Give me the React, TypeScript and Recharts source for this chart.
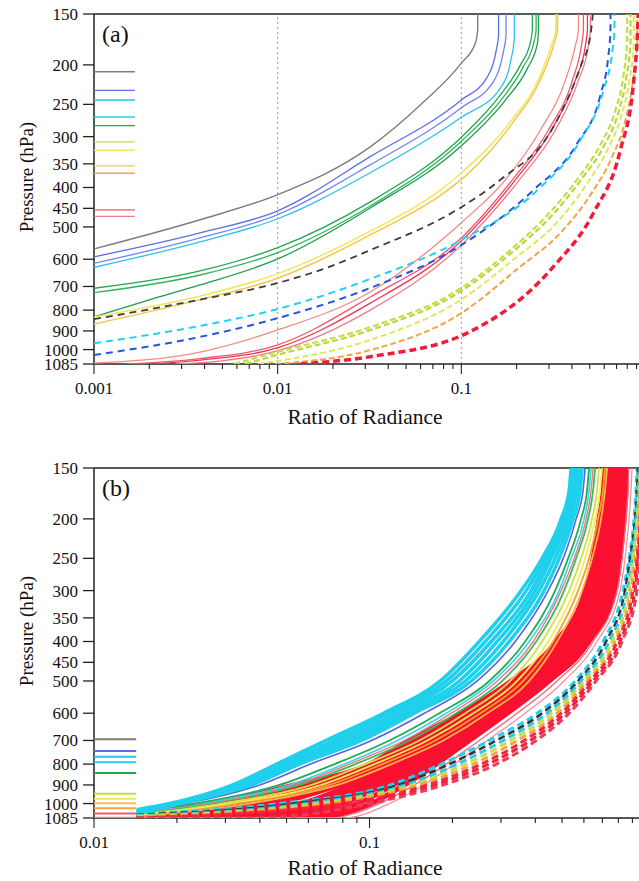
import React from 'react';
import { ScatterChart, Scatter, XAxis, YAxis, ReferenceLine } from 'recharts';

type Pt = [number, number];
interface Curve { data: Pt[]; color: string; w: number; dash?: string }

const FONT = "'Liberation Serif', 'Times New Roman', Times, serif";

// pressure axis (hPa), same for both panels
const pressureTicks = [150, 200, 250, 300, 350, 400, 450, 500, 600, 700, 800, 900, 1000, 1085];
const pressureDomain: [number, number] = [150, 1085];

// ratio axis
const ratioTicksA = [0.001, 0.002, 0.003, 0.004, 0.005, 0.006, 0.007, 0.008, 0.009,
  0.01, 0.02, 0.03, 0.04, 0.05, 0.06, 0.07, 0.08, 0.09,
  0.1, 0.2, 0.3, 0.4, 0.5, 0.6, 0.7, 0.8, 0.9];
const ratioLabelsA = [0.001, 0.01, 0.1];
const ratioTicksB = [0.01, 0.02, 0.03, 0.04, 0.05, 0.06, 0.07, 0.08, 0.09,
  0.1, 0.2, 0.3, 0.4, 0.5, 0.6, 0.7, 0.8, 0.9];
const ratioLabelsB = [0.01, 0.1];
const dottedA = [0.01, 0.1];

// short legend stubs at the left edge
const legendColors = ['#7d7d7d', '#5b6fe6', '#2bc3ec', '#1fd2f2', '#22a650', '#c3dd44',
  '#efe75e', '#f3c64e', '#f5a343', '#f0566c', '#f27b8c'];
const legendPressA = [208, 231, 244, 268.5, 282, 309, 324, 354, 369, 454, 471];
const legendPressB = [695, 743, 767, 792, 841, 946, 973, 998, 1027, 1057, 1083];
const legendSpanA = [0.001, 0.00167];
const legendSpanB = [0.01, 0.01423];

// ---- panel (a): [ratio, pressure] ----
const grayA: Pt[] = [[0.001, 566], [0.00378, 480], [0.00993, 417], [0.0319, 318], [0.0598, 251], [0.1, 198], [0.1192, 177], [0.1228, 164], [0.1228, 150]];
const blue1A: Pt[] = [[0.001, 592], [0.00378, 517], [0.00993, 457], [0.0319, 336], [0.1, 244], [0.1386, 214], [0.155, 184], [0.1595, 169], [0.1595, 150]];
const blue2A: Pt[] = [[0.001, 614], [0.00378, 532], [0.00993, 467], [0.0319, 352], [0.1, 255], [0.1513, 218], [0.1693, 186], [0.1752, 169], [0.1752, 150]];
const cyanA: Pt[] = [[0.001, 628], [0.00378, 544], [0.00993, 478], [0.0319, 368], [0.1, 269], [0.1632, 228], [0.1873, 192], [0.1944, 172], [0.1944, 150]];
const green1A: Pt[] = [[0.001, 707], [0.00378, 641], [0.00993, 563], [0.0319, 434], [0.1, 301], [0.1632, 237], [0.2098, 200], [0.2377, 176], [0.2437, 164], [0.2437, 150]];
const green2A: Pt[] = [[0.001, 725], [0.00378, 656], [0.00993, 579], [0.0319, 444], [0.1, 308], [0.1693, 240], [0.2177, 202], [0.2483, 176], [0.2554, 164], [0.2554, 150]];
const green3A: Pt[] = [[0.001, 831], [0.00202, 754], [0.00378, 694], [0.00993, 600], [0.0319, 449], [0.1, 316], [0.1737, 244], [0.2289, 204], [0.2596, 177], [0.2629, 164], [0.2629, 150]];
const yellowA: Pt[] = [[0.001, 832], [0.00378, 739], [0.00993, 652], [0.0319, 512], [0.0768, 406], [0.1, 368], [0.1849, 276], [0.2695, 212], [0.3132, 176], [0.328, 164], [0.328, 150]];
const goldA: Pt[] = [[0.001, 865], [0.00378, 754], [0.00993, 669], [0.0319, 523], [0.0818, 410], [0.1065, 373], [0.192, 276], [0.2763, 212], [0.3212, 176], [0.3337, 164], [0.3337, 150]];
const red1A: Pt[] = [[0.001, 1080], [0.00378, 1014], [0.00993, 896], [0.0319, 722], [0.1, 488], [0.1737, 383], [0.2695, 289], [0.3688, 218], [0.4181, 179], [0.4342, 164], [0.4342, 150]];
const red2A: Pt[] = [[0.00151, 1085], [0.00378, 1052], [0.00993, 975], [0.0319, 743], [0.1, 532], [0.1897, 383], [0.298, 289], [0.4027, 218], [0.4508, 179], [0.4622, 164], [0.4622, 150]];
const red3A: Pt[] = [[0.00202, 1085], [0.00378, 1061], [0.00993, 991], [0.0319, 769], [0.1, 541], [0.197, 383], [0.3093, 289], [0.4181, 218], [0.474, 179], [0.486, 164], [0.486, 150]];
const red4A: Pt[] = [[0.00276, 1085], [0.00486, 1067], [0.00993, 1008], [0.0319, 800], [0.1, 554], [0.2071, 383], [0.3252, 289], [0.4342, 218], [0.4921, 179], [0.5047, 164], [0.5047, 150]];
const blackDashA: Pt[] = [[0.001, 842], [0.00378, 754], [0.00993, 687], [0.01706, 638], [0.0319, 570], [0.1, 447], [0.1632, 383], [0.3172, 284], [0.4452, 202], [0.5047, 169], [0.52, 150]];
const blueDashA: Pt[] = [[0.001, 1031], [0.00378, 931], [0.00993, 838], [0.0319, 706], [0.1, 554], [0.2468, 406], [0.4288, 311], [0.572, 237], [0.6325, 189], [0.6486, 164], [0.6486, 150]];
const cyanDashA: Pt[] = [[0.001, 965], [0.00378, 875], [0.00993, 796], [0.0319, 671], [0.1, 538], [0.2596, 406], [0.4452, 306], [0.594, 231], [0.665, 184], [0.682, 164], [0.682, 150]];
const ygDash1A: Pt[] = [[0.00579, 1085], [0.00993, 1014], [0.0319, 881], [0.1, 706], [0.1849, 570], [0.3055, 459], [0.4452, 373], [0.572, 314], [0.6906, 258], [0.7635, 212], [0.7998, 174], [0.7998, 150]];
const ygDash2A: Pt[] = [[0.00665, 1085], [0.00993, 1031], [0.0319, 896], [0.1, 718], [0.1897, 576], [0.3132, 467], [0.4564, 379], [0.594, 318], [0.7172, 261], [0.7928, 214], [0.8337, 176], [0.8337, 150]];
const ygDash3A: Pt[] = [[0.00783, 1085], [0.0319, 947], [0.1, 754], [0.197, 596], [0.3294, 489], [0.486, 390], [0.6246, 323], [0.7447, 266], [0.8232, 218], [0.869, 179], [0.869, 150]];
const orangeDashA: Pt[] = [[0.00969, 1085], [0.0319, 1003], [0.1, 814], [0.2045, 631], [0.3464, 517], [0.5175, 410], [0.6569, 339], [0.7831, 273], [0.8548, 224], [0.9069, 179], [0.9069, 150]];
const redDashA: Pt[] = [[0.01327, 1085], [0.0319, 1041], [0.1074, 911], [0.3172, 626], [0.524, 462], [0.735, 323], [0.8657, 222], [0.9103, 167], [0.92, 150]];

// ---- panel (b): [ratio, pressure] ----
const cyanB1: Pt[] = [[0.0143, 1035], [0.01886, 1000], [0.03189, 900], [0.04603, 800], [0.06929, 700], [0.1124, 600], [0.1808, 500], [0.2503, 400], [0.3554, 300], [0.4233, 250], [0.4963, 200], [0.5305, 170], [0.5394, 150]];
const cyanB2: Pt[] = [[0.0143, 1040], [0.01917, 1000], [0.03297, 900], [0.04799, 800], [0.07406, 700], [0.1181, 600], [0.1901, 500], [0.2632, 400], [0.3706, 300], [0.4342, 250], [0.5046, 200], [0.5394, 170], [0.5485, 150]];
const cyanB3: Pt[] = [[0.0143, 1045], [0.0195, 1000], [0.03408, 900], [0.04961, 800], [0.07851, 700], [0.1253, 600], [0.1999, 500], [0.2767, 400], [0.3863, 300], [0.4452, 250], [0.5131, 200], [0.5485, 170], [0.5577, 150]];
const cyanB4: Pt[] = [[0.0143, 1050], [0.01982, 1000], [0.03495, 900], [0.05172, 800], [0.08324, 700], [0.1317, 600], [0.2119, 500], [0.2909, 400], [0.3993, 300], [0.4565, 250], [0.5218, 200], [0.5577, 170], [0.5671, 150]];
const cyanB5: Pt[] = [[0.0143, 1055], [0.02015, 1000], [0.03614, 900], [0.05348, 800], [0.08825, 700], [0.1384, 600], [0.2228, 500], [0.3058, 400], [0.4129, 300], [0.472, 250], [0.535, 200], [0.5671, 170], [0.5815, 150]];
const cyanB6: Pt[] = [[0.0143, 1060], [0.02049, 1000], [0.03736, 900], [0.05577, 800], [0.09356, 700], [0.1455, 600], [0.2342, 500], [0.3215, 400], [0.4305, 300], [0.488, 250], [0.5485, 200], [0.5815, 170], [0.5911, 150]];
const blueB: Pt[] = [[0.0143, 1040], [0.02136, 1000], [0.03994, 900], [0.0611, 800], [0.1017, 700], [0.1582, 600], [0.2462, 500], [0.3381, 400], [0.4452, 300], [0.505, 250], [0.5624, 200], [0.596, 170], [0.6062, 150]];
const green1B: Pt[] = [[0.0143, 1045], [0.02322, 1000], [0.0472, 900], [0.07468, 800], [0.1181, 700], [0.1793, 600], [0.2722, 500], [0.3674, 400], [0.472, 300], [0.526, 250], [0.586, 200], [0.6163, 170], [0.6268, 150]];
const cyanMixB: Pt[] = [[0.0143, 1050], [0.02422, 1000], [0.05131, 900], [0.08117, 800], [0.1263, 700], [0.19, 600], [0.2815, 500], [0.3799, 400], [0.488, 300], [0.5395, 250], [0.6012, 200], [0.6268, 170], [0.6373, 150]];
const pinkMixB: Pt[] = [[0.0143, 1055], [0.02525, 1000], [0.05348, 900], [0.08464, 800], [0.1339, 700], [0.1981, 600], [0.2909, 500], [0.3928, 400], [0.4963, 300], [0.5531, 250], [0.6113, 200], [0.6373, 170], [0.6481, 150]];
const green2B: Pt[] = [[0.0143, 1055], [0.02633, 1000], [0.05577, 900], [0.089, 800], [0.1396, 700], [0.2066, 600], [0.3033, 500], [0.4028, 400], [0.5088, 300], [0.5624, 250], [0.6216, 200], [0.6481, 170], [0.659, 150]];
const ygB: Pt[] = [[0.0143, 1060], [0.02861, 1000], [0.06164, 900], [0.09672, 800], [0.1517, 700], [0.2228, 600], [0.3242, 500], [0.4233, 400], [0.5305, 300], [0.586, 250], [0.6427, 200], [0.6699, 170], [0.6813, 150]];
const yellowB: Pt[] = [[0.0143, 1065], [0.03058, 1000], [0.067, 900], [0.1043, 800], [0.1622, 700], [0.2381, 600], [0.3438, 500], [0.4452, 400], [0.5531, 300], [0.6062, 250], [0.659, 200], [0.687, 170], [0.6986, 150]];
const orange1B: Pt[] = [[0.0143, 1070], [0.03325, 1000], [0.07163, 900], [0.1115, 800], [0.1733, 700], [0.2524, 600], [0.3613, 500], [0.4641, 400], [0.5719, 300], [0.6268, 250], [0.6756, 200], [0.7044, 170], [0.7163, 150]];
const orange2B: Pt[] = [[0.0143, 1075], [0.03675, 1000], [0.07657, 900], [0.1201, 800], [0.1853, 700], [0.2677, 600], [0.3799, 500], [0.4799, 400], [0.5912, 300], [0.6427, 250], [0.6928, 200], [0.7163, 170], [0.7283, 150]];
const redB1: Pt[] = [[0.0143, 1060], [0.02745, 1000], [0.05348, 900], [0.1, 800], [0.1396, 700], [0.2155, 600], [0.3269, 500], [0.4759, 400], [0.6062, 300], [0.6481, 250], [0.6813, 200], [0.7044, 170], [0.7103, 150]];
const redB2: Pt[] = [[0.0143, 1070], [0.03243, 1000], [0.06062, 900], [0.1069, 800], [0.1491, 700], [0.2303, 600], [0.3438, 500], [0.4921, 400], [0.6216, 300], [0.6645, 250], [0.6986, 200], [0.7163, 170], [0.7283, 150]];
const redB3: Pt[] = [[0.0143, 1075], [0.03831, 1000], [0.06871, 900], [0.1143, 800], [0.1595, 700], [0.2441, 600], [0.3613, 500], [0.5088, 400], [0.6373, 300], [0.6813, 250], [0.7103, 200], [0.7283, 170], [0.7406, 150]];
const redB4: Pt[] = [[0.0143, 1080], [0.04527, 1000], [0.07786, 900], [0.1222, 800], [0.1705, 700], [0.2611, 600], [0.3799, 500], [0.5261, 400], [0.6535, 300], [0.6986, 250], [0.7283, 200], [0.7468, 170], [0.7593, 150]];
const redB5: Pt[] = [[0.0143, 1085], [0.05577, 1000], [0.08606, 900], [0.1306, 800], [0.1822, 700], [0.2677, 600], [0.3961, 500], [0.5395, 400], [0.6699, 300], [0.7163, 250], [0.7468, 200], [0.7657, 170], [0.7721, 150]];
const redB6: Pt[] = [[0.0143, 1085], [0.02422, 1085], [0.06267, 1000], [0.09434, 900], [0.1384, 800], [0.1917, 700], [0.2768, 600], [0.4061, 500], [0.5577, 400], [0.687, 300], [0.7345, 250], [0.7593, 200], [0.7786, 170], [0.7851, 150]];
const redB7: Pt[] = [[0.0143, 1085], [0.0311, 1085], [0.07103, 1000], [0.1026, 900], [0.1467, 800], [0.1998, 700], [0.2862, 600], [0.4164, 500], [0.5719, 400], [0.7103, 300], [0.7531, 250], [0.7786, 200], [0.7983, 170], [0.805, 150]];
const redB8: Pt[] = [[0.0143, 1085], [0.03994, 1085], [0.07983, 1000], [0.1124, 900], [0.1556, 800], [0.2101, 700], [0.2958, 600], [0.4269, 500], [0.5912, 400], [0.7283, 300], [0.7721, 250], [0.7983, 200], [0.8184, 170], [0.8253, 150]];
const redB9: Pt[] = [[0.0143, 1085], [0.0492, 1085], [0.09049, 1000], [0.1222, 900], [0.1649, 800], [0.2191, 700], [0.3058, 600], [0.4377, 500], [0.6062, 400], [0.7531, 300], [0.7983, 250], [0.8184, 200], [0.8323, 170], [0.8393, 150]];
const redB10: Pt[] = [[0.0143, 1085], [0.06062, 1085], [0.1017, 1000], [0.1339, 900], [0.1748, 800], [0.2303, 700], [0.3162, 600], [0.4489, 500], [0.6268, 400], [0.7786, 300], [0.8117, 250], [0.8393, 200], [0.8535, 170], [0.8535, 150]];
const pinkB1: Pt[] = [[0.0143, 1085], [0.07163, 1085], [0.1087, 1000], [0.1455, 900], [0.19, 800], [0.2503, 700], [0.3437, 600], [0.48, 500], [0.6481, 400], [0.7917, 300], [0.8253, 250], [0.8535, 200], [0.8678, 170], [0.875, 150]];
const pinkB2: Pt[] = [[0.0143, 1085], [0.08117, 1085], [0.1181, 1000], [0.1569, 900], [0.2032, 800], [0.2677, 700], [0.3675, 600], [0.5088, 500], [0.6699, 400], [0.8117, 300], [0.8464, 250], [0.875, 200], [0.8898, 170], [0.8973, 150]];
const dashB1: Pt[] = [[0.0143, 1060], [0.0472, 1000], [0.1191, 900], [0.1823, 800], [0.2722, 700], [0.4061, 600], [0.5577, 500], [0.7044, 400], [0.8323, 300], [0.875, 250], [0.9123, 200], [0.9277, 170], [0.9355, 150]];
const dashB2: Pt[] = [[0.0143, 1065], [0.0526, 1000], [0.1273, 900], [0.1949, 800], [0.2886, 700], [0.4234, 600], [0.5719, 500], [0.7223, 400], [0.8464, 300], [0.8824, 250], [0.92, 200], [0.9355, 170], [0.9433, 150]];
const dashB3: Pt[] = [[0.0143, 1070], [0.05863, 1000], [0.135, 900], [0.2084, 800], [0.3058, 700], [0.4415, 600], [0.586, 500], [0.7406, 400], [0.8607, 300], [0.8973, 250], [0.9277, 200], [0.9433, 170], [0.9512, 150]];
const dashB4: Pt[] = [[0.0143, 1075], [0.06535, 1000], [0.1431, 900], [0.2228, 800], [0.3242, 700], [0.4603, 600], [0.6012, 500], [0.7593, 400], [0.875, 300], [0.9048, 250], [0.9355, 200], [0.9512, 170], [0.9592, 150]];
const dashB5: Pt[] = [[0.0143, 1080], [0.07223, 1000], [0.1517, 900], [0.2381, 800], [0.3437, 700], [0.48, 600], [0.6163, 500], [0.7786, 400], [0.8898, 300], [0.9199, 250], [0.9512, 200], [0.9592, 170], [0.9672, 150]];
const dashB6: Pt[] = [[0.0143, 1085], [0.0805, 1000], [0.1622, 900], [0.2545, 800], [0.3644, 700], [0.4962, 600], [0.632, 500], [0.7917, 400], [0.9048, 300], [0.9355, 250], [0.9592, 200], [0.9672, 170], [0.9753, 150]];
const dashB7: Pt[] = [[0.0143, 1085], [0.0311, 1085], [0.0897, 1000], [0.1733, 900], [0.2699, 800], [0.3831, 700], [0.5131, 600], [0.6481, 500], [0.8117, 400], [0.9199, 300], [0.9433, 250], [0.9672, 200], [0.9753, 170], [0.9835, 150]];
const dashB8: Pt[] = [[0.0143, 1085], [0.0399, 1085], [0.1, 1000], [0.1853, 900], [0.2886, 800], [0.4028, 700], [0.5305, 600], [0.6645, 500], [0.8253, 400], [0.9355, 300], [0.9592, 250], [0.9835, 200], [0.9917, 170], [0.9917, 150]];

const curvesA: Curve[] = [
  { data: grayA, color: '#7d7d7d', w: 1.4 },
  { data: blue1A, color: '#5b6fe6', w: 1.3 },
  { data: blue2A, color: '#7484ee', w: 1.3 },
  { data: cyanA, color: '#2bc3ec', w: 1.3 },
  { data: green1A, color: '#22a650', w: 1.3 },
  { data: green2A, color: '#2fb35c', w: 1.3 },
  { data: green3A, color: '#1f9c4a', w: 1.3 },
  { data: yellowA, color: '#efe75e', w: 1.5 },
  { data: goldA, color: '#f3c64e', w: 1.5 },
  { data: red1A, color: '#f48a80', w: 1.3 },
  { data: red2A, color: '#f0566c', w: 1.3 },
  { data: red3A, color: '#ea3550', w: 1.3 },
  { data: red4A, color: '#f27b8c', w: 1.3 },
  { data: blackDashA, color: '#3d3d3d', w: 1.8, dash: '7 5' },
  { data: blueDashA, color: '#2456e0', w: 2, dash: '7 5' },
  { data: cyanDashA, color: '#1fd2f2', w: 2, dash: '7 5' },
  { data: ygDash1A, color: '#c3dd44', w: 2.2, dash: '6 3' },
  { data: ygDash2A, color: '#b6d83c', w: 2.2, dash: '6 3' },
  { data: ygDash3A, color: '#e3e65a', w: 2, dash: '6 3' },
  { data: orangeDashA, color: '#f5a343', w: 2, dash: '6 3' },
  { data: redDashA, color: '#f01c3c', w: 3.5, dash: '7 4' },
];

const RED = '#fa1030';
const curvesB: Curve[] = [
  ...[redB1, redB2, redB3, redB4, redB5, redB6, redB7, redB8, redB9, redB10].map((d) => ({ data: d, color: RED, w: 5 })),
  { data: pinkB1, color: '#f26a7e', w: 1.3 },
  { data: pinkB2, color: '#f590a0', w: 1.3 },
  { data: orange2B, color: '#f7b646', w: 1.8 },
  { data: orange1B, color: '#f6a030', w: 1.8 },
  { data: yellowB, color: '#f2ee5a', w: 1.8 },
  { data: ygB, color: '#cde24a', w: 1.8 },
  { data: green2B, color: '#3dbb55', w: 1.8 },
  { data: pinkMixB, color: '#f07888', w: 1.4 },
  { data: cyanMixB, color: '#35d6ec', w: 1.6 },
  { data: green1B, color: '#22aa50', w: 1.8 },
  { data: blueB, color: '#5566dd', w: 1.6 },
  ...[cyanB6, cyanB5, cyanB4, cyanB3, cyanB2, cyanB1].map((d) => ({ data: d, color: '#1fd0ec', w: 3.5 })),
  { data: dashB1, color: '#22cfee', w: 3, dash: '7 4' },
  { data: dashB2, color: '#333333', w: 2.5, dash: '7 4' },
  { data: dashB3, color: '#2ec4ee', w: 3, dash: '7 4' },
  { data: dashB4, color: '#c6df45', w: 3, dash: '7 4' },
  { data: dashB5, color: '#f5a442', w: 3, dash: '7 4' },
  { data: dashB6, color: '#f5273f', w: 3, dash: '7 4' },
  { data: dashB7, color: '#f0203c', w: 3, dash: '7 4' },
  { data: dashB8, color: '#f23a55', w: 3, dash: '7 4' },
];

// label content; prop names chosen so Recharts' Label props do not override them
function Title({ tx, ty, text, size, rot = 0, anchor = 'middle' }: any) {
  return (
    <text x={tx} y={ty} dy="0.35em" textAnchor={anchor} fontSize={size} fontFamily={FONT} fill="#111"
      transform={rot ? `rotate(${rot} ${tx} ${ty})` : undefined}>
      {text}
    </text>
  );
}

function PressureTick({ x, y, payload }: any) {
  return (
    <g>
      <line x1={x - 11} x2={x} y1={y} y2={y} stroke="#222" strokeWidth={1.3} />
      <text x={x - 16} y={y} dy="0.35em" textAnchor="end" fontSize={17} fontFamily={FONT} fill="#111">
        {payload.value}
      </text>
    </g>
  );
}

function RatioTick({ x, y, payload, labels }: any) {
  const major = labels.includes(payload.value);
  return (
    <g>
      <line x1={x} x2={x} y1={y} y2={y + (major ? 10 : 5)} stroke="#222" strokeWidth={1.1} />
      {major && (
        <text x={x} y={y + 24} dy="0.35em" textAnchor="middle" fontSize={17} fontFamily={FONT} fill="#111">
          {String(payload.value)}
        </text>
      )}
    </g>
  );
}

function Panel({ tag, domain, ticks, labels, curves, legendPress, legendSpan, legendW, dotted, titleY }: any) {
  return (
    <ScatterChart width={660} height={440} margin={{ top: 14, right: 15, bottom: 0, left: 0 }}>
      <XAxis dataKey="x" type="number" scale="log" domain={domain} allowDataOverflow ticks={ticks} interval={0}
        tickSize={0} tickMargin={0} height={76} axisLine={{ stroke: '#222', strokeWidth: 1.5 }}
        tick={(p: any) => <RatioTick {...p} labels={labels} />}
        label={<Title tx={365} ty={titleY} size={21.5} text="Ratio of Radiance" />} />
      <YAxis dataKey="p" type="number" scale="log" domain={pressureDomain} reversed allowDataOverflow
        ticks={pressureTicks} interval={0} width={94} tickSize={0} tickMargin={0}
        axisLine={{ stroke: '#222', strokeWidth: 1.5 }} tick={PressureTick}
        label={<Title tx={26.5} ty={177} rot={-90} size={19} text="Pressure (hPa)" />} />
      {dotted.map((v: number) => (
        <ReferenceLine key={`d${v}`} x={v} stroke="#9a9a9a" strokeDasharray="2 3" strokeWidth={1} />
      ))}
      <ReferenceLine y={150} stroke="#222" strokeWidth={1.5}
        label={<Title tx={102} ty={34} size={24} anchor="start" text={tag} />} />
      {legendPress.map((p: number, i: number) => (
        <Scatter key={`l${i}`} data={legendSpan.map((x: number) => ({ x, p }))} fill="none"
          line={{ stroke: legendColors[i], strokeWidth: legendW }} shape={() => <g />} isAnimationActive={false} />
      ))}
      {curves.map((c: Curve, i: number) => (
        <Scatter key={`c${i}`} data={c.data.map(([x, p]) => ({ x, p }))} fill="none"
          line={{ stroke: c.color, strokeWidth: c.w, strokeDasharray: c.dash }}
          lineJointType="monotoneX" shape={() => <g />} isAnimationActive={false} />
      ))}
    </ScatterChart>
  );
}

export default function App() {
  return (
    <div style={{ position: 'absolute', left: 0, top: 0, width: 639, height: 881, overflow: 'hidden', background: '#fff' }}>
      <div style={{ position: 'absolute', left: 0, top: 0 }}>
        <Panel tag="(a)" domain={[0.001, 1]} ticks={ratioTicksA} labels={ratioLabelsA} curves={curvesA}
          legendPress={legendPressA} legendSpan={legendSpanA} legendW={1.4} dotted={dottedA} titleY={416} />
      </div>
      <div style={{ position: 'absolute', left: 0, top: 454 }}>
        <Panel tag="(b)" domain={[0.01, 1]} ticks={ratioTicksB} labels={ratioLabelsB} curves={curvesB}
          legendPress={legendPressB} legendSpan={legendSpanB} legendW={2} dotted={[]} titleY={413} />
      </div>
    </div>
  );
}
